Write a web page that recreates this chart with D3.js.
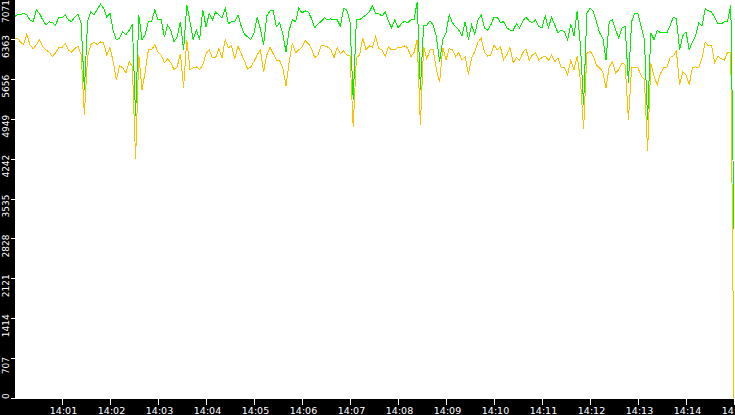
<!DOCTYPE html>
<html><head><meta charset="utf-8">
<script src="https://cdn.jsdelivr.net/npm/d3@7"></script>
<style>html,body{margin:0;padding:0;background:#000;overflow:hidden}svg{display:block}</style>
</head><body>
<svg id="chart" width="735" height="415"></svg>
<script>
// ---- data ----
const startTime = [14, 0, 0];      // 14:00:00
const stepSeconds = 4;             // one sample every 4 s
const greenSeries = [6750,6790,6790,6820,6790,6700,6670,6880,6810,6700,6610,6670,6650,6610,6750,6740,6790,6700,6670,6750,6810,6630,5460,6670,6840,6790,6880,6980,6910,
6750,6820,6510,6350,6380,6490,6440,6520,6610,4990,6790,6350,6440,6670,6670,6880,6700,6700,6400,6610,6520,6310,6400,6670,6170,6970,6670,6350,
6520,6350,6880,6580,6810,6700,6840,6790,6740,6910,6630,6670,6670,6790,6590,6450,6400,6350,6470,6750,6540,6260,6770,6860,6860,6580,6650,6450,
6130,6520,6700,6670,6910,6820,6860,6840,6720,6560,6630,6670,6740,6700,6720,6700,6700,6590,6900,6880,6670,5290,6700,6700,6750,6790,6840,6950,
6820,6810,6770,6840,6680,6560,6700,6560,6630,6680,6650,6700,6700,7020,5460,6610,6610,6680,6610,6400,5960,6350,6470,6790,6650,6580,6520,6420,
6670,6350,6610,6450,6700,6790,6560,6520,6610,6750,6750,6650,6670,6560,6520,6520,6630,6560,6680,6750,6680,6650,6700,6580,6560,6770,6560,6750,
6610,6470,6520,6490,6350,6630,6420,6860,6260,5200,6810,6910,6860,6670,6470,6380,5990,6670,6700,6520,6380,6560,6580,5590,6670,6820,6810,6580,6350,
4930,6470,6350,6520,6470,6470,6470,6590,6750,6720,6170,6420,6490,6170,6310,6420,6650,6590,6900,6860,6840,6740,6630,6630,6670,6670,6970,2990];
const orangeSeries = [6350,6380,6310,6260,6450,6260,6190,6260,6350,6220,6170,6130,6050,6120,6210,6210,6280,6170,6130,6190,6240,6080,5020,6050,6260,6310,6260,6310,6290,
6080,6210,5960,5640,5890,5850,5760,5960,5870,4230,6080,5460,5780,6170,6170,6260,6130,6080,5940,6010,5940,5820,5870,6100,5500,6350,5820,5850,
5870,5820,5900,6100,6170,6030,6030,6190,6030,6350,6210,6240,6010,6240,6100,5980,5830,5870,5960,6080,6170,5780,6080,6210,6100,5990,5980,5850,
5530,5960,6290,6120,6170,6220,6330,6280,6190,6030,6080,6240,6240,6220,6170,6030,6210,6100,6150,6080,6060,4810,6030,6080,6380,6170,6240,6220,
6400,6190,6170,6060,6220,6170,6170,6220,6210,6240,6210,6050,6120,6350,4840,6220,6010,6170,6170,5820,5600,6210,5990,6190,6170,6050,6120,5990,
6050,5730,6030,6130,6310,6380,6130,6060,6080,6260,6170,6220,5990,6080,6210,5940,6030,5990,6120,6190,5980,6080,6120,5990,6030,6060,5980,6080,
5960,6030,5850,5850,5730,5990,5820,6060,5640,4760,6100,6150,6060,5900,5850,5780,5500,5870,5960,5760,5820,5940,5900,4930,5850,5850,5850,5710,5640,
4370,5940,5710,5550,5750,5850,5850,6030,6060,6150,5550,5780,5730,5550,5850,5870,5850,6030,6310,6240,6240,5940,6060,6010,5990,6130,6130,0];
const yTickValues = [0,707,1414,2121,2828,3535,4242,4949,5656,6363,7071];
const xTickLabels = ["14:01","14:02","14:03","14:04","14:05","14:06","14:07","14:08","14:09","14:10","14:11","14:12","14:13","14:14","14:15"];
const yMax = 7071;

// ---- chart ----
const W = 735, H = 415, plotL = 15, plotB = 399;
const svg = d3.select("#chart");
svg.append("rect").attr("width", W).attr("height", H).attr("fill", "#000");
svg.append("rect").attr("x", plotL).attr("y", 0).attr("width", W - plotL).attr("height", plotB).attr("fill", "#fff");

const t0 = new Date(2000, 0, 1, startTime[0], startTime[1], startTime[2]);
const dates = greenSeries.map((_, i) => new Date(+t0 + i * stepSeconds * 1000));
const tEnd = dates[dates.length - 1];

const x = d3.scaleTime().domain([t0, tEnd]).range([14, 734]);
const y = d3.scaleLinear().domain([0, yMax]).range([398, -1]);

svg.append("clipPath").attr("id", "clip").append("rect")
  .attr("x", plotL).attr("y", 0).attr("width", W - plotL).attr("height", plotB);

const line = d3.line().x((d, i) => x(dates[i])).y(d => y(d));
const plot = svg.append("g").attr("clip-path", "url(#clip)");
plot.append("path").datum(orangeSeries).attr("d", line)
  .attr("fill", "none").attr("stroke", "#ffc000").attr("stroke-width", 1).attr("shape-rendering", "crispEdges");
plot.append("path").datum(greenSeries).attr("d", line)
  .attr("fill", "none").attr("stroke", "#00ee00").attr("stroke-width", 1).attr("shape-rendering", "crispEdges");

// x axis
const parseHM = s => { const [h, m] = s.split(":").map(Number); return new Date(2000, 0, 1, h, m, 0); };
const xTickDates = xTickLabels.map(parseHM);
const xAxis = d3.axisBottom(x).tickValues(xTickDates)
  .tickFormat((d, i) => xTickLabels[i]).tickSize(6).tickSizeOuter(0).tickPadding(2);
const gx = svg.append("g").attr("transform", `translate(0,${plotB})`).call(xAxis);
gx.select(".domain").remove();
gx.selectAll("line").attr("stroke", "#fff").attr("shape-rendering", "crispEdges");
gx.selectAll("text").attr("fill", "#fff").attr("dx", 1)
  .style("font-family", "'DejaVu Sans', sans-serif").style("font-size", "9.5px");

// y axis
const yAxis = d3.axisLeft(y).tickValues(yTickValues).tickFormat(d => String(d)).tickSize(4).tickSizeOuter(0);
const gy = svg.append("g").attr("transform", `translate(${plotL},0)`).call(yAxis);
gy.select(".domain").remove();
gy.selectAll("line").attr("stroke", "#fff").attr("shape-rendering", "crispEdges");
gy.selectAll(".tick").each(function(d) {
  const ty = y(d) + 0.5;
  const t = d3.select(this).select("text")
    .attr("fill", "#fff").attr("x", 0).attr("dy", 0).attr("text-anchor", "middle")
    .style("font-family", "'DejaVu Sans', sans-serif").style("font-size", "9px");
  const len = t.node().getComputedTextLength();
  let cy = ty + 7;
  cy = Math.max(len / 2, Math.min(plotB - len / 2, cy));
  t.attr("transform", `translate(-6.5,${cy - ty}) rotate(-90)`);
});
</script>
</body></html>
